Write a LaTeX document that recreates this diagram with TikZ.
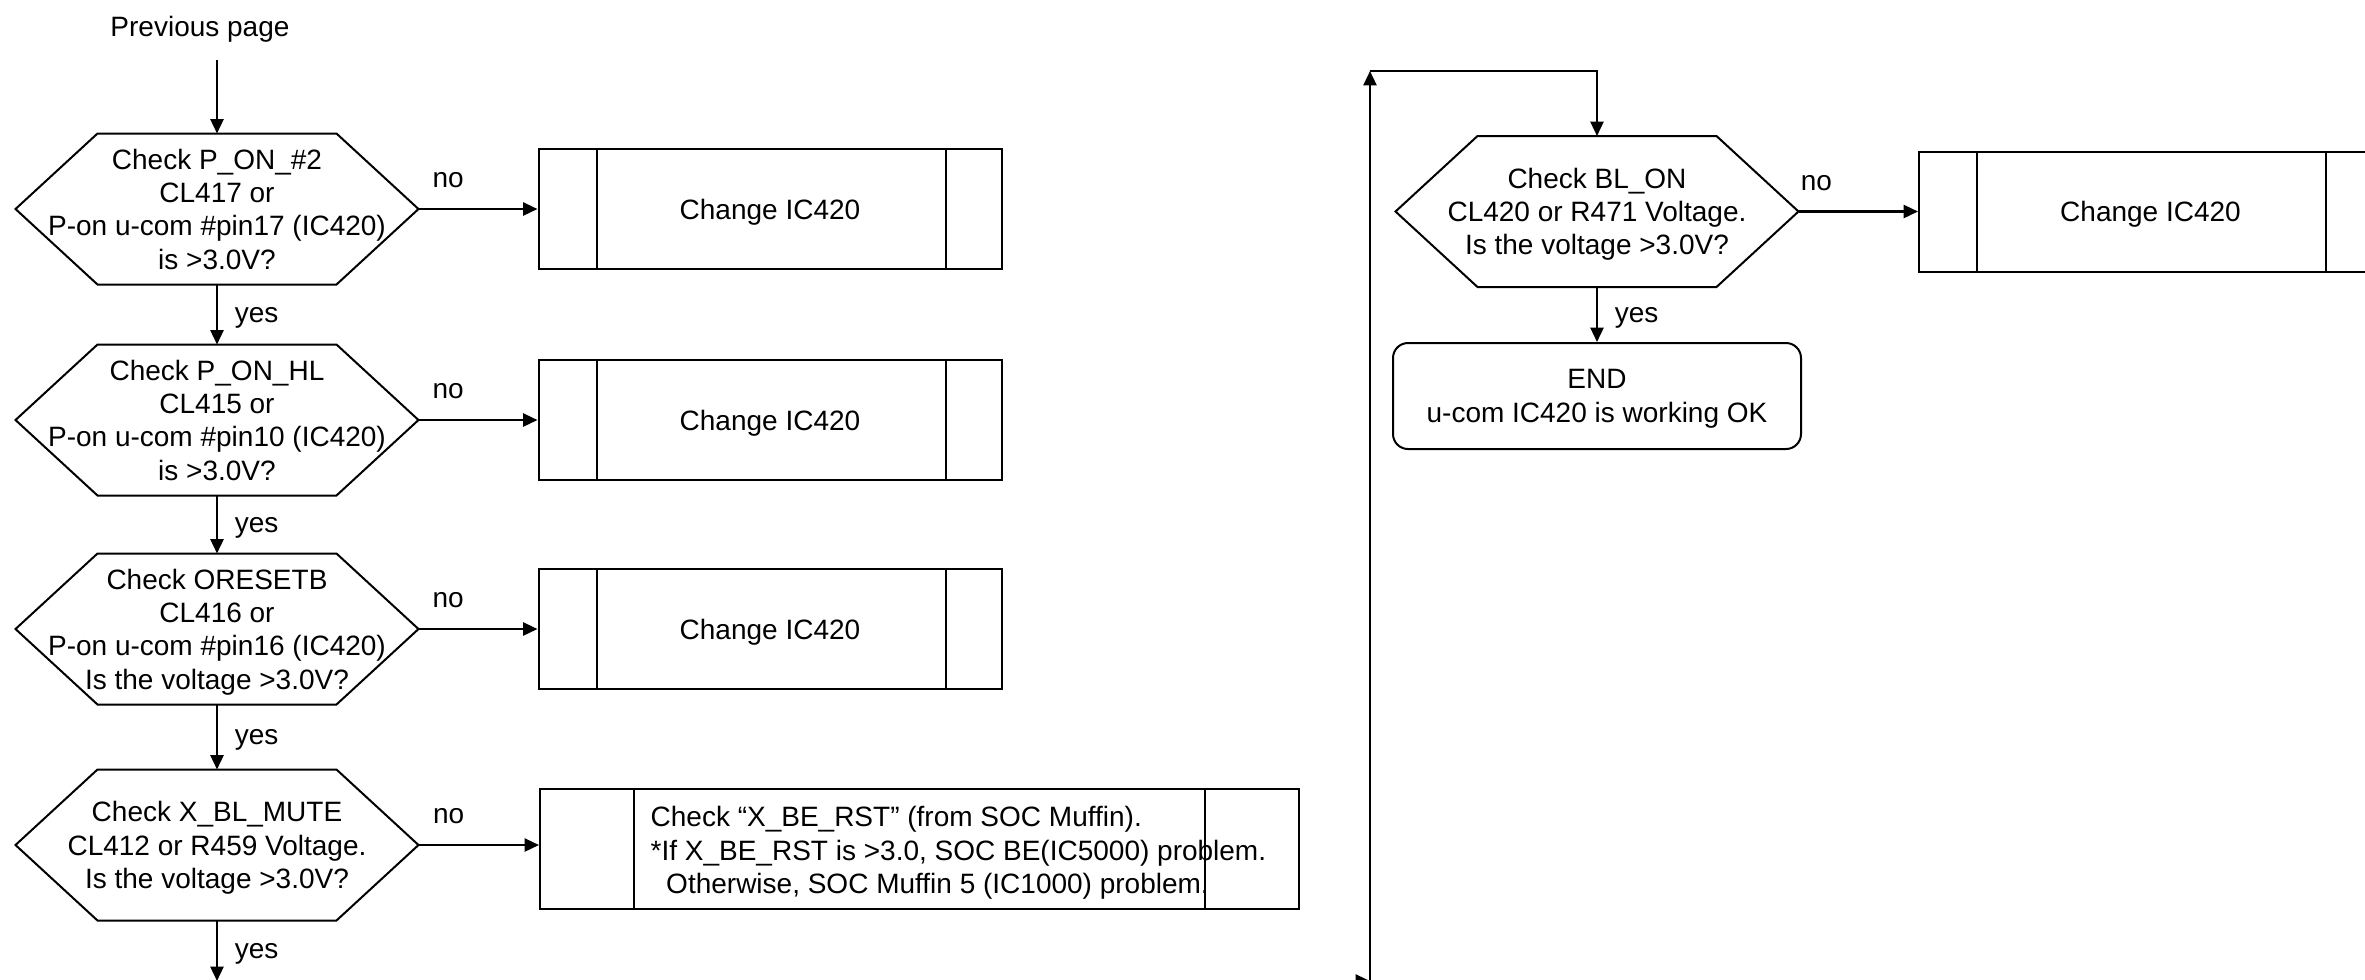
\documentclass[tikz,border=0pt]{standalone}
\usepackage{fontspec}
\setmainfont{Liberation Sans}
\usetikzlibrary{arrows.meta, positioning, calc}

\begin{document}
\begin{tikzpicture}[
  x=0.3pt, y=-0.3pt,
  font=\fontsize{8.4}{10}\selectfont,
  hexnode/.style={minimum width=120.9pt, minimum height=45.3pt, align=center, inner sep=0pt, outer sep=0pt, text depth=0pt},
  procbox/.style={draw, line width=0.6pt, minimum width=138.9pt, minimum height=36pt, align=center, inner sep=0pt, text depth=0pt},
  endbox/.style={draw, line width=0.6pt, rounded corners=4.5pt, minimum width=122.4pt, minimum height=31.8pt, align=center, inner sep=0pt, text depth=0pt},
  shapeline/.style={line width=0.6pt},
  arr/.style={line width=0.7pt, -{Triangle[length=4.3pt, width=3.9pt]}},
  lbl/.style={inner sep=0pt, text depth=0pt}
]
  \useasboundingbox (0,0) rectangle (2365,979);
  \clip (0,0) rectangle (2365,979);

  \node[text depth=0pt] (prev) at (200,26) {Previous page};
  \coordinate (start) at (217,60);
  \node[hexnode] (c1) at (217,209) {Check P\_ON\_\#2\\CL417 or\\P-on u-com \#pin17 (IC420)\\is >3.0V?};
  \node[hexnode] (c2) at (217,420) {Check P\_ON\_HL\\CL415 or\\P-on u-com \#pin10 (IC420)\\is >3.0V?};
  \node[hexnode] (c3) at (217,629) {Check ORESETB\\CL416 or\\P-on u-com \#pin16 (IC420)\\Is the voltage >3.0V?};
  \node[hexnode] (c4) at (217,845) {Check X\_BL\_MUTE\\CL412 or R459 Voltage.\\Is the voltage >3.0V?};
  \coordinate (next) at (217,981);

  \node[procbox] (b1) at (770,209) {Change IC420};
  \node[procbox] (b2) at (770,420) {Change IC420};
  \node[procbox] (b3) at (770,629) {Change IC420};
  \node[procbox, minimum width=227.7pt] (b4) at (919.5,849) {};
  \node[anchor=west, align=left, inner sep=0pt] (b4txt) at (650,853) {Check “X\_BE\_RST” (from SOC Muffin).\\{}*If X\_BE\_RST is >3.0, SOC BE(IC5000) problem.\\\ \ Otherwise, SOC Muffin 5 (IC1000) problem.};

  \coordinate (top) at (1370,71);
  \coordinate (bot) at (1370,981);
  \coordinate (feed) at (1250,981);
  \node[hexnode] (c5) at (1597,211.5) {Check BL\_ON\\CL420 or R471 Voltage.\\Is the voltage >3.0V?};
  \node[procbox] (b5) at (2150.5,211.5) {Change IC420};
  \node[endbox] (end) at (1597,396) {END\\u-com IC420 is working OK};

  \foreach \h in {c1,c2,c3,c4,c5}
    \draw[shapeline] (\h.west) -- ([xshift=24.6pt]\h.north west) -- ([xshift=-24.6pt]\h.north east) -- (\h.east)
      -- ([xshift=-24.6pt]\h.south east) -- ([xshift=24.6pt]\h.south west) -- cycle;
  \foreach \b/\l/\r in {b1/59/57, b2/59/57, b3/59/57, b4/95/95, b5/59/57}
    \draw[shapeline] ([xshift=\l*0.3pt]\b.north west) -- ([xshift=\l*0.3pt]\b.south west)
      ([xshift=-\r*0.3pt]\b.north east) -- ([xshift=-\r*0.3pt]\b.south east);

  \draw[arr] (start) -- (c1.north);
  \draw[arr] (c1.south) -- node[lbl, right=5pt] {yes} (c2.north);
  \draw[arr] (c2.south) -- node[lbl, right=5pt] {yes} (c3.north);
  \draw[arr] (c3.south) -- node[lbl, right=5pt] {yes} (c4.north);
  \draw[arr] (c4.south) -- node[lbl, right=5pt] {yes} (next);
  \draw[arr] (c1.east) -- node[lbl, above=6pt, pos=0.25] {no} (c1.east -| b1.west);
  \draw[arr] (c2.east) -- node[lbl, above=6pt, pos=0.25] {no} (c2.east -| b2.west);
  \draw[arr] (c3.east) -- node[lbl, above=6pt, pos=0.25] {no} (c3.east -| b3.west);
  \draw[arr] (c4.east) -- node[lbl, above=6pt, pos=0.25] {no} (c4.east -| b4.west);

  \draw[arr] (feed) -- (bot);
  \draw[arr] (bot) -- (top);
  \draw[arr] (top) -| (c5.north);
  \draw[arr] (c5.east) -- node[lbl, above=6pt, pos=0.15] {no} (c5.east -| b5.west);
  \draw[arr] (c5.south) -- node[lbl, right=5pt] {yes} (end.north);
\end{tikzpicture}
\end{document}
